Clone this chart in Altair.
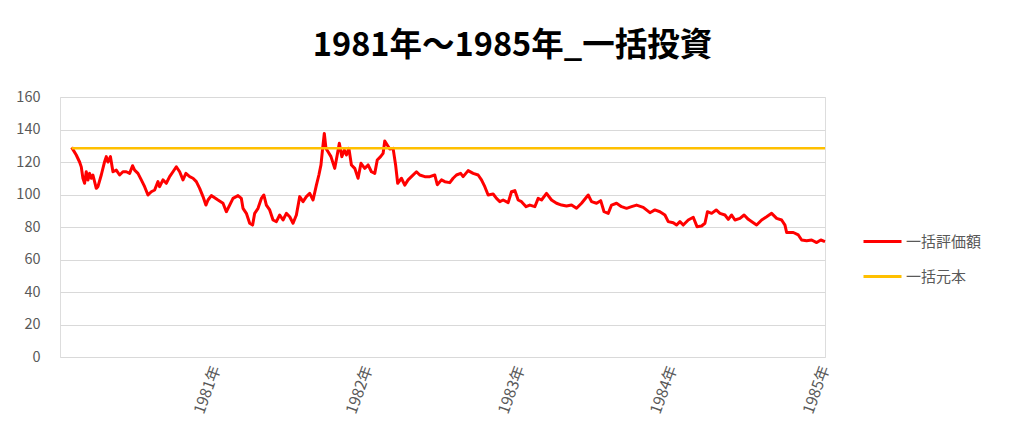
import altair as alt
import pandas as pd

title_text = "1981年～1985年_一括投資"
series_names = ["一括評価額", "一括元本"]
series_colors = ["#FF0000", "#FFC000"]

dates = [
    "1980-01-22", "1980-02-02", "1980-02-10", "1980-02-14", "1980-02-18", "1980-02-22", "1980-02-26",
    "1980-03-01", "1980-03-05", "1980-03-09", "1980-03-13", "1980-03-21", "1980-03-25", "1980-04-02",
    "1980-04-10", "1980-04-14", "1980-04-18", "1980-04-24", "1980-04-30", "1980-05-08", "1980-05-16",
    "1980-05-24", "1980-06-01", "1980-06-09", "1980-06-16", "1980-06-21", "1980-06-29", "1980-07-07",
    "1980-07-15", "1980-07-23", "1980-07-31", "1980-08-08", "1980-08-16", "1980-08-20", "1980-08-28",
    "1980-09-05", "1980-09-13", "1980-09-21", "1980-09-29", "1980-10-07", "1980-10-15", "1980-10-22",
    "1980-10-31", "1980-11-08", "1980-11-16", "1980-11-24", "1980-12-02", "1980-12-09", "1980-12-14",
    "1980-12-22", "1980-12-30", "1981-01-07", "1981-01-19", "1981-01-27", "1981-02-04", "1981-02-12",
    "1981-02-24", "1981-03-04", "1981-03-08", "1981-03-16", "1981-03-24", "1981-03-31", "1981-04-05",
    "1981-04-13", "1981-04-21", "1981-04-27", "1981-05-03", "1981-05-11", "1981-05-19", "1981-05-27",
    "1981-06-04", "1981-06-12", "1981-06-20", "1981-06-28", "1981-07-06", "1981-07-14", "1981-07-22",
    "1981-07-30", "1981-08-07", "1981-08-15", "1981-08-23", "1981-08-31", "1981-09-06", "1981-09-11",
    "1981-09-15", "1981-09-19", "1981-09-23", "1981-09-28", "1981-10-05", "1981-10-14", "1981-10-20",
    "1981-10-25", "1981-10-31", "1981-11-06", "1981-11-11", "1981-11-17", "1981-11-23", "1981-12-01",
    "1981-12-09", "1981-12-16", "1981-12-25", "1982-01-02", "1982-01-10", "1982-01-18", "1982-01-24",
    "1982-02-01", "1982-02-07", "1982-02-11", "1982-02-17", "1982-02-23", "1982-03-03", "1982-03-09",
    "1982-03-14", "1982-03-23", "1982-03-31", "1982-04-08", "1982-04-16", "1982-04-28", "1982-05-06",
    "1982-05-18", "1982-05-30", "1982-06-11", "1982-06-17", "1982-06-27", "1982-07-05", "1982-07-17",
    "1982-07-25", "1982-08-02", "1982-08-12", "1982-08-18", "1982-08-30", "1982-09-11", "1982-09-23",
    "1982-10-01", "1982-10-09", "1982-10-17", "1982-10-29", "1982-11-06", "1982-11-14", "1982-11-22",
    "1982-12-04", "1982-12-12", "1982-12-20", "1982-12-28", "1983-01-05", "1983-01-16", "1983-01-25",
    "1983-02-06", "1983-02-14", "1983-02-22", "1983-03-06", "1983-03-18", "1983-03-30", "1983-04-11",
    "1983-04-23", "1983-05-05", "1983-05-17", "1983-05-29", "1983-06-14", "1983-06-22", "1983-07-04",
    "1983-07-14", "1983-07-22", "1983-08-01", "1983-08-09", "1983-08-21", "1983-09-02", "1983-09-14",
    "1983-09-26", "1983-10-08", "1983-10-24", "1983-11-09", "1983-11-21", "1983-12-03", "1983-12-15",
    "1983-12-23", "1984-01-04", "1984-01-12", "1984-01-20", "1984-01-28", "1984-02-09", "1984-02-21",
    "1984-03-01", "1984-03-12", "1984-03-20", "1984-03-26", "1984-04-05", "1984-04-16", "1984-04-25",
    "1984-05-07", "1984-05-15", "1984-05-23", "1984-05-31", "1984-06-12", "1984-06-22", "1984-07-02",
    "1984-07-14", "1984-07-22", "1984-08-03", "1984-08-15", "1984-08-27", "1984-09-08", "1984-09-20",
    "1984-09-28", "1984-10-02", "1984-10-18", "1984-10-30", "1984-11-07", "1984-11-19", "1984-12-01",
    "1984-12-13", "1984-12-23", "1985-01-02",
]

values = [
    129.0, 124.3, 120.0, 117.0, 110.0, 106.9, 114.0,
    108.9, 113.0, 110.0, 112.0, 103.8, 104.8, 112.0,
    120.2, 123.3, 120.0, 123.3, 114.0, 115.0, 112.0,
    114.0, 114.0, 113.0, 117.7, 115.0, 113.0, 109.0,
    104.8, 99.7, 101.7, 102.8, 107.9, 104.8, 109.0,
    106.9, 111.0, 114.0, 117.1, 114.0, 109.0, 113.0,
    111.0, 110.0, 107.9, 103.8, 98.7, 93.5, 96.6,
    99.3, 98.0, 96.6, 94.6, 89.4, 93.5, 97.6,
    99.3, 97.6, 91.5, 88.4, 82.3, 81.2, 88.4,
    91.5, 97.6, 99.7, 93.5, 90.5, 84.3, 83.3,
    87.4, 84.3, 88.4, 86.3, 82.3, 87.4, 98.7,
    95.6, 98.7, 100.7, 96.6, 105.8, 112.0, 118.2,
    128.4, 137.6, 128.4, 126.3, 123.3, 116.1, 124.3,
    131.5, 123.3, 127.4, 124.3, 128.4, 118.2, 116.1,
    110.0, 119.2, 116.1, 118.2, 114.0, 113.0, 121.2,
    123.3, 125.3, 132.9, 130.5, 128.0, 128.4, 118.2,
    106.9, 110.0, 105.8, 109.0, 111.0, 114.0, 112.0,
    111.0, 111.0, 112.0, 106.0, 109.0, 107.9, 107.3,
    110.0, 112.0, 113.0, 111.0, 114.7, 113.0, 112.0,
    109.0, 104.8, 99.7, 100.3, 97.6, 95.6, 96.6,
    95.0, 101.7, 102.4, 96.6, 95.6, 92.5, 93.5,
    92.5, 97.6, 96.6, 100.7, 96.6, 94.6, 93.5,
    92.9, 93.5, 91.5, 94.6, 99.7, 95.6, 94.6,
    96.2, 89.4, 88.4, 93.5, 94.6, 92.5, 91.5,
    92.5, 93.5, 92.1, 88.8, 90.5, 89.4, 87.4,
    83.3, 82.6, 81.2, 83.3, 81.2, 84.3, 86.0,
    80.2, 80.6, 82.3, 89.4, 88.4, 90.5, 88.4,
    87.4, 84.7, 87.4, 84.3, 85.3, 87.4, 84.7,
    82.6, 81.2, 84.3, 86.3, 88.4, 85.3, 84.3,
    81.2, 76.6, 76.6, 75.1, 72.0, 71.6, 72.0,
    70.4, 72.0, 71.0,
]

principal_dates = ["1980-01-22", "1985-01-02"]
principal_values = [128.5, 128.5]

y_ticks = [0, 20, 40, 60, 80, 100, 120, 140, 160]
year_ticks = [1981, 1982, 1983, 1984, 1985]

df_val = pd.DataFrame({"date": dates, "value": values, "series": series_names[0]})
df_pri = pd.DataFrame({"date": principal_dates, "value": principal_values, "series": series_names[1]})

FONT = "Noto Sans CJK JP"

x_enc = alt.X(
    "date:T",
    title=None,
    scale=alt.Scale(
        type="utc",
        domain=[alt.DateTime(year=1979, month=12, date=25, utc=True),
                alt.DateTime(year=1985, month=1, date=2, utc=True)],
    ),
    axis=alt.Axis(
        values=[alt.DateTime(year=y, month=1, date=1, utc=True) for y in year_ticks],
        labelExpr="utcFormat(datum.value, '%Y') + '年'",
        labelAngle=290,
        labelAlign="right",
        labelBaseline="middle",
        labelFontSize=15.5,
        labelColor="#595959",
        labelFont=FONT,
        labelPadding=9,
        ticks=False,
        domain=False,
        grid=False,
        labelOverlap=False,
        labelFlush=False,
    ),
)
y_enc = alt.Y(
    "value:Q",
    title=None,
    scale=alt.Scale(domain=[0, 160], nice=False),
    axis=alt.Axis(
        values=y_ticks,
        labelFontSize=14.5,
        labelColor="#595959",
        labelFont=FONT,
        labelPadding=20,
        ticks=False,
        domain=False,
        grid=True,
        gridColor="#D9D9D9",
        gridWidth=1,
    ),
)
color_enc = alt.Color(
    "series:N",
    scale=alt.Scale(domain=series_names, range=series_colors),
    sort=series_names,
    legend=alt.Legend(
        title=None,
        orient="none",
        legendX=802,
        legendY=124,
        symbolType="stroke",
        symbolSize=1444,
        symbolStrokeWidth=3,
        labelFontSize=15,
        labelColor="#595959",
        labelFont=FONT,
        labelOffset=3,
        rowPadding=6,
    ),
)

line_val = alt.Chart(df_val).mark_line(strokeWidth=3, strokeJoin="round").encode(
    x=x_enc, y=y_enc, color=color_enc
)
line_pri = alt.Chart(df_pri).mark_line(strokeWidth=2.5).encode(
    x=x_enc, y=y_enc, color=color_enc
)

chart = (
    alt.layer(line_val, line_pri)
    .properties(
        width=765,
        height=260,
        title=alt.TitleParams(
            text=title_text,
            fontSize=32.5,
            fontWeight="bold",
            font=FONT,
            color="#000000",
            anchor="middle",
            dx=70,
            offset=27,
        ),
        autosize=alt.AutoSizeParams(type="none"),
        padding={"left": 52, "top": 89, "right": 185, "bottom": 70},
    )
    .configure_view(stroke=None)
    .configure(background="#FFFFFF")
)

chart.save("out.html", embed_options={"renderer": "svg", "actions": False})
